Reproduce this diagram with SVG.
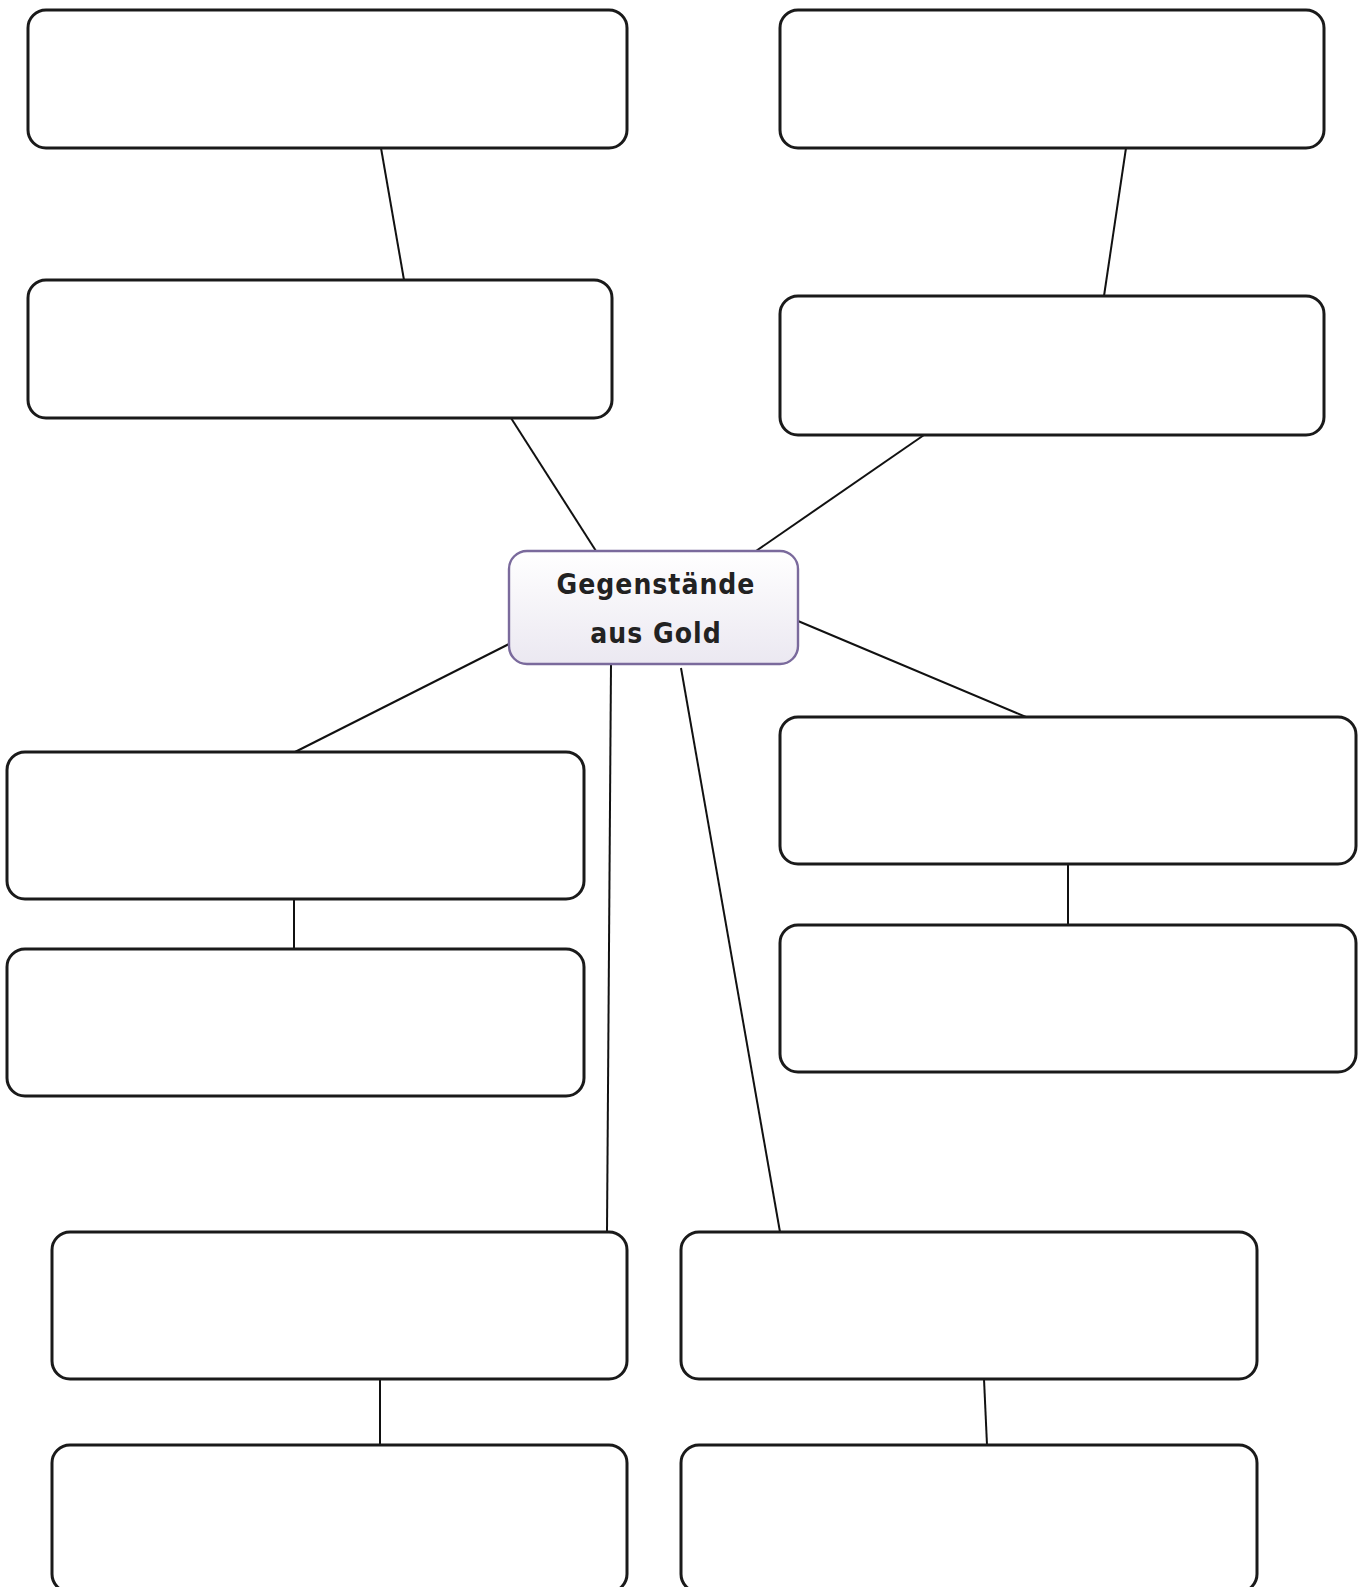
<svg xmlns="http://www.w3.org/2000/svg" width="1360" height="1587" viewBox="0 0 1360 1587">
<defs>
<linearGradient id="cg" x1="0" y1="0" x2="0" y2="1">
<stop offset="0" stop-color="#ffffff"/>
<stop offset="1" stop-color="#ebe8f1"/>
</linearGradient>
<style>
.box{fill:#ffffff;stroke:#1a1a1a;stroke-width:3}
.center{fill:url(#cg);stroke:#7a6a9c;stroke-width:2.4}
.edge{stroke:#111;stroke-width:2;fill:none}
.lbl{font-family:"DejaVu Sans Condensed","DejaVu Sans",sans-serif;font-weight:bold;font-size:28px;fill:#222;text-anchor:middle;letter-spacing:1px}
</style>
</defs>
<rect width="1360" height="1587" fill="#ffffff"/>
<g id="connectors">
<line class="edge" x1="381" y1="148" x2="404" y2="280"/>
<line class="edge" x1="1126" y1="148" x2="1104" y2="296"/>
<line class="edge" x1="511" y1="418" x2="596" y2="551"/>
<line class="edge" x1="924" y1="435" x2="756" y2="551"/>
<line class="edge" x1="509" y1="644" x2="295" y2="752"/>
<line class="edge" x1="798" y1="621" x2="1026" y2="717"/>
<line class="edge" x1="294" y1="899" x2="294" y2="949"/>
<line class="edge" x1="1068" y1="864" x2="1068" y2="925"/>
<line class="edge" x1="611" y1="664" x2="607" y2="1232"/>
<line class="edge" x1="681" y1="668" x2="780" y2="1232"/>
<line class="edge" x1="380" y1="1379" x2="380" y2="1445"/>
<line class="edge" x1="984" y1="1379" x2="987" y2="1445"/>
</g>
<g id="n1"><rect class="box" x="28" y="10" width="599" height="138" rx="18"/></g>
<g id="n2"><rect class="box" x="780" y="10" width="544" height="138" rx="18"/></g>
<g id="n3"><rect class="box" x="28" y="280" width="584" height="138" rx="18"/></g>
<g id="n4"><rect class="box" x="780" y="296" width="544" height="139" rx="18"/></g>
<g id="n6"><rect class="box" x="7" y="752" width="577" height="147" rx="18"/></g>
<g id="n7"><rect class="box" x="7" y="949" width="577" height="147" rx="18"/></g>
<g id="n8"><rect class="box" x="780" y="717" width="576" height="147" rx="18"/></g>
<g id="n9"><rect class="box" x="780" y="925" width="576" height="147" rx="18"/></g>
<g id="n10"><rect class="box" x="52" y="1232" width="575" height="147" rx="18"/></g>
<g id="n11"><rect class="box" x="681" y="1232" width="576" height="147" rx="18"/></g>
<g id="n12"><rect class="box" x="52" y="1445" width="575" height="147" rx="18"/></g>
<g id="n13"><rect class="box" x="681" y="1445" width="576" height="147" rx="18"/></g>
<g id="center">
<rect class="center" x="509" y="551" width="289" height="113" rx="18"/>
<text class="lbl" x="656" y="594">Gegenstände</text>
<text class="lbl" x="656" y="643">aus Gold</text>
</g>
</svg>
